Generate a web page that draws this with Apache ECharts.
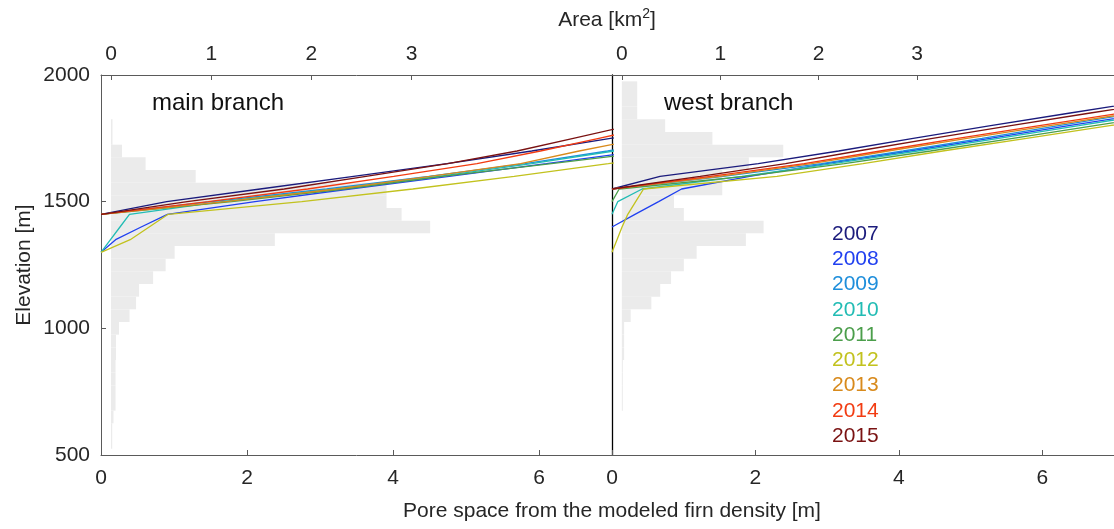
<!DOCTYPE html>
<html>
<head>
<meta charset="utf-8">
<script src="https://cdn.jsdelivr.net/npm/echarts@6/dist/echarts.min.js"></script>
<style>html,body{margin:0;padding:0;background:#fff}#c{width:1114px;height:529px}</style>
</head>
<body>
<div id="c"></div>
<script>
// ---- data ----
const YEARS = ['2007','2008','2009','2010','2011','2012','2013','2014','2015'];
const COLORS = ['#1b1b7c','#2040f0','#1e8edb','#22bcb4','#4b9e4b','#c2c21e','#d88a1c','#f23c12','#7a1212'];

// histogram bins (elevation bin centres, 50 m wide) and glacier area per bin [km2]
const BIN_ELEV = [550,600,650,700,750,800,850,900,950,1000,1050,1100,1150,1200,1250,1300,1350,1400,1450,1500,1550,1600,1650,1700,1750,1800,1850,1900,1950];
const AREA_MAIN = [0.012,0.012,0.025,0.045,0.045,0.045,0.045,0.05,0.05,0.08,0.185,0.25,0.28,0.42,0.545,0.635,1.635,3.185,2.90,2.75,2.75,0.845,0.345,0.11,0.015,0.015,0,0,0];
const AREA_WEST = [0,0,0,0.01,0.01,0.01,0.01,0.023,0.023,0.023,0.09,0.30,0.39,0.50,0.63,0.76,1.26,1.44,0.63,0.53,1.02,1.02,1.29,1.64,0.92,0.44,0.156,0.156,0.156];

// pore space [m] at elevation nodes
const ELEV = [1300,1350,1400,1450,1500,1550,1600,1650,1700,1750,1800,1850,1900];
const MAIN_2007 = [null,null,null,0,0.9,2.18,3.46,4.74,5.9,6.98,8.1,null,null];
const MAIN_2008 = [0,0.2,0.55,0.91,2.11,3.41,4.77,6.1,7.39,null,null,null,null];
const MAIN_2009 = [null,null,null,0,1.51,3.09,4.49,5.81,6.94,8.0,null,null,null];
const MAIN_2010 = [0,0.13,0.26,0.39,1.65,3.21,4.63,5.9,7.03,null,null,null,null];
const MAIN_2011 = [null,null,null,0,1.79,3.34,4.68,6.17,7.62,null,null,null,null];
const MAIN_2012 = [0,0.4,0.66,0.92,2.75,4.27,5.66,6.95,8.2,null,null,null,null];
const MAIN_2013 = [null,null,null,0,1.7,3.23,4.51,5.75,6.55,7.44,null,null,null];
const MAIN_2014 = [null,null,null,0,1.47,2.83,4.01,5.15,6.02,6.82,7.6,null,null];
const MAIN_2015 = [null,null,null,0,1.18,2.51,3.63,4.75,5.70,6.47,7.24,null,null];

const WEST_2007 = [null,null,null,null,null,0,0.67,2.04,3.16,4.2,5.28,6.39,7.5];
const WEST_2008 = [null,null,0,0.32,0.65,0.97,1.92,2.99,4.15,5.27,6.37,7.5,null];
const WEST_2009 = [null,null,null,null,null,0,1.55,2.92,4.06,5.16,6.23,7.3,null];
const WEST_2010 = [null,null,null,0,0.08,0.42,1.81,3.08,4.26,5.39,6.51,7.6,null];
const WEST_2011 = [null,null,null,null,0,0.1,1.86,3.24,4.44,5.59,6.73,7.87,null];
const WEST_2012 = [0,0.07,0.14,0.22,0.33,0.44,2.3,3.5,4.61,5.78,6.94,8.1,null];
const WEST_2013 = [null,null,null,null,null,0,1.5,2.78,3.85,4.95,6.1,7.25,null];
const WEST_2014 = [null,null,null,null,null,0,1.375,2.68,3.74,4.82,5.96,7.1,null];
const WEST_2015 = [null,null,null,null,null,0,1.23,2.42,3.43,4.47,5.56,6.67,7.8];

const MAIN = [MAIN_2007,MAIN_2008,MAIN_2009,MAIN_2010,MAIN_2011,MAIN_2012,MAIN_2013,MAIN_2014,MAIN_2015];
const WEST = [WEST_2007,WEST_2008,WEST_2009,WEST_2010,WEST_2011,WEST_2012,WEST_2013,WEST_2014,WEST_2015];

const PORE_TICKS = [0,2,4,6];
const AREA_TICKS = [0,1,2,3];
const BIN_W = 50;

// ---- chart ----
const FONT = "'Liberation Sans', Arial, Helvetica, sans-serif";
const TXT = '#262626';
const AX = '#5a5a5a';

function poreAxis(grid) {
  return {
    type:'value', gridIndex:grid, position:'bottom', min:0, max:7,
    axisLine:{show:true, lineStyle:{color:AX, width:1}},
    axisTick:{show:true, inside:true, length:5, customValues:PORE_TICKS, lineStyle:{color:AX}},
    axisLabel:{customValues:PORE_TICKS, color:TXT, fontSize:21, fontFamily:FONT, margin:13},
    splitLine:{show:false}
  };
}
function areaAxis(grid) {
  return {
    type:'value', gridIndex:grid, position:'top', min:-0.1, max:5,
    axisLine:{show:true, lineStyle:{color:AX, width:1}},
    axisTick:{show:true, inside:true, length:5, customValues:AREA_TICKS, lineStyle:{color:AX}},
    axisLabel:{customValues:AREA_TICKS, color:TXT, fontSize:21, fontFamily:FONT, margin:10},
    splitLine:{show:false}
  };
}

function histSeries(xIdx, yIdx, areas) {
  return {
    type:'custom', xAxisIndex:xIdx, yAxisIndex:yIdx, silent:true, z:1,
    data: BIN_ELEV.map((e,i)=>[areas[i], e]).filter(d=>d[0]>0),
    renderItem(params, api) {
      const a = api.value(0), e = api.value(1);
      const p1 = api.coord([0, e + BIN_W/2]);
      const p2 = api.coord([a, e - BIN_W/2]);
      return {type:'rect', shape:{x:p1[0], y:p1[1], width:p2[0]-p1[0], height:p2[1]-p1[1]},
              style:{fill:'#ebebeb', stroke:null}};
    }
  };
}
function lineSeries(xIdx, yIdx, vals, k) {
  return {
    type:'line', name:YEARS[k], xAxisIndex:xIdx, yAxisIndex:yIdx, z:3,
    showSymbol:false, symbol:'none', clip:true, silent:true,
    lineStyle:{color:COLORS[k], width:1.3},
    data: ELEV.map((e,i)=>[vals[i], e]).filter(d=>d[0]!==null)
  };
}

const series = [histSeries(1,0,AREA_MAIN), histSeries(3,1,AREA_WEST)];
MAIN.forEach((v,k)=>series.push(lineSeries(0,0,v,k)));
WEST.forEach((v,k)=>series.push(lineSeries(2,1,v,k)));

const graphic = [
  {type:'text', z:10, style:{text:'{a|Area [km}{s|2}{a|]}', x:607, y:20, textAlign:'center', textVerticalAlign:'middle',
     rich:{a:{fontSize:21, fontFamily:FONT, fill:TXT, lineHeight:26}, s:{fontSize:14, fontFamily:FONT, fill:TXT, padding:[0,0,12,0]}}}},
  {type:'text', z:10, style:{text:'main branch', x:152, y:103, fontSize:24, fontFamily:FONT, fill:'#111', textVerticalAlign:'middle'}},
  {type:'text', z:10, style:{text:'west branch', x:664, y:103, fontSize:24, fontFamily:FONT, fill:'#111', textVerticalAlign:'middle'}},
  {type:'text', z:10, style:{text:'Pore space from the modeled firn density [m]', x:612, y:511, fontSize:21, fontFamily:FONT, fill:TXT, textAlign:'center', textVerticalAlign:'middle'}}
];
YEARS.forEach((y,k)=>graphic.push({type:'text', z:10, style:{text:y, x:832, y:234 + k*25.25, fontSize:21, fontFamily:FONT, fill:COLORS[k], textVerticalAlign:'middle'}}));

const chart = echarts.init(document.getElementById('c'), null, {renderer:'canvas'});
chart.setOption({
  animation:false,
  backgroundColor:'#fff',
  grid:[
    {left:101, top:75, width:511, height:380, containLabel:false},
    {left:612, top:75, width:511, height:380, containLabel:false}
  ],
  xAxis:[poreAxis(0), areaAxis(0), poreAxis(1), areaAxis(1)],
  yAxis:[
    {type:'value', gridIndex:0, min:500, max:2000, interval:500,
     name:'Elevation [m]', nameLocation:'middle', nameGap:66, nameRotate:90,
     nameTextStyle:{fontSize:21, fontFamily:FONT, color:TXT},
     axisLine:{show:true, lineStyle:{color:AX, width:1}},
     axisTick:{show:true, inside:true, length:5, lineStyle:{color:AX}},
     axisLabel:{color:TXT, fontSize:21, fontFamily:FONT, margin:11, formatter:(v)=>String(v)},
     splitLine:{show:false}},
    {type:'value', gridIndex:1, min:500, max:2000, interval:500,
     axisLine:{show:true, lineStyle:{color:'#000', width:1.3}},
     axisTick:{show:false}, axisLabel:{show:false}, splitLine:{show:false}}
  ],
  series,
  graphic
});
</script>
</body>
</html>
